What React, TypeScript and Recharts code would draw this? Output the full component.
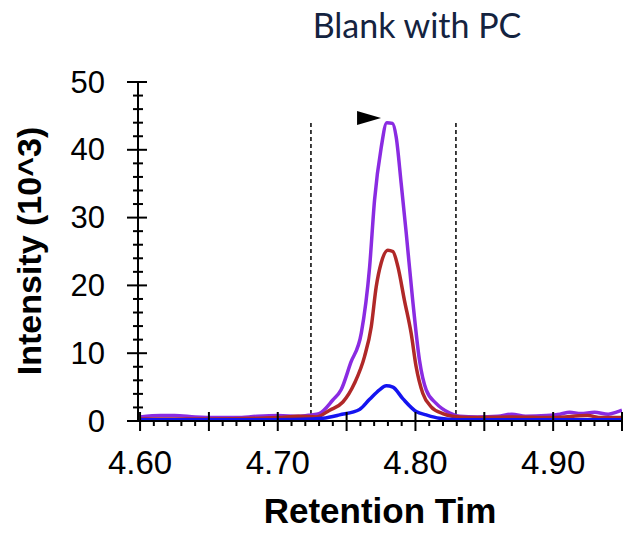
import React from 'react';
import { LineChart, Line, XAxis, YAxis, ReferenceLine, ReferenceDot, Label } from 'recharts';

// Retention time (min) / intensity (10^3) for each trace
const purpleT = [4.6, 4.615, 4.625, 4.64, 4.655, 4.67, 4.685, 4.7, 4.715, 4.724, 4.73, 4.74, 4.746, 4.753, 4.7607, 4.7667, 4.7703, 4.7751, 4.7792, 4.7833, 4.786, 4.7896, 4.7933, 4.798, 4.8029, 4.8078, 4.815, 4.8246, 4.832, 4.845, 4.86, 4.87, 4.88, 4.895, 4.905, 4.912, 4.92, 4.93, 4.94, 4.946, 4.95];
const purpleY = [0.6, 0.8, 0.8, 0.6, 0.5, 0.5, 0.7, 0.8, 0.7, 0.9, 1.1, 3.1, 4.6, 8.6, 13.0, 22.7, 32.6, 40.3, 44.0, 43.9, 41.9, 35.1, 27.7, 17.8, 9.0, 4.6, 2.6, 1.2, 0.7, 0.6, 0.7, 1.0, 0.7, 0.8, 1.0, 1.3, 1.1, 1.3, 1.0, 1.3, 1.6];

const redT = [4.6, 4.65, 4.7, 4.715, 4.728, 4.7377, 4.7473, 4.7558, 4.763, 4.7679, 4.7715, 4.7751, 4.7799, 4.7836, 4.7872, 4.792, 4.7969, 4.8005, 4.8053, 4.8114, 4.8198, 4.8268, 4.84, 4.87, 4.9, 4.925, 4.935, 4.95];
const redY = [0.3, 0.3, 0.5, 0.7, 0.6, 1.6, 2.8, 5.6, 9.5, 13.9, 19.8, 23.3, 25.2, 25.0, 22.8, 17.8, 12.9, 8.0, 4.1, 2.1, 1.1, 0.7, 0.5, 0.6, 0.5, 0.8, 0.5, 0.5];

const blueT = [4.6, 4.7, 4.725, 4.7328, 4.7449, 4.7594, 4.7667, 4.7739, 4.7788, 4.7836, 4.7908, 4.8005, 4.8078, 4.8174, 4.83, 4.95];
const blueY = [0.2, 0.2, 0.3, 0.4, 0.9, 1.7, 3.2, 4.6, 5.2, 5.0, 3.3, 1.4, 0.9, 0.4, 0.2, 0.2];

// integration window & peak marker
const windowStart = 4.7241;
const windowEnd = 4.8294;
const windowTop = 44.1;
const markerT = 4.775;
const markerY = 44.7;

// axis ticks
const xMinorStep = 0.01;
const xTicks = Array.from({ length: 36 }, (_, i) => Math.round((4.6 + i * xMinorStep) * 100) / 100);
const yTicks = Array.from({ length: 26 }, (_, i) => i * 2);

const title = 'Blank with PC';
const xTitle = 'Retention Tim';
const yTitle = 'Intensity (10^3)';

const toRows = (t: number[], y: number[]) => t.map((v, i) => ({ t: v, y: y[i] }));
const purpleData = toRows(purpleT, purpleY);
const redData = toRows(redT, redY);
const blueData = toRows(blueT, blueY);

const ARIAL = '"Liberation Sans", Arial, sans-serif';

const XTick = (props: any) => {
  const { x, y, payload } = props;
  const v = payload.value as number;
  const k = Math.round(v * 100);
  const major = k % 5 === 0;
  const labeled = k % 10 === 0;
  return (
    <g>
      <line x1={x} x2={x} y1={major ? y - 9 : y} y2={major ? y + 10 : y + 5} stroke="#000" strokeWidth={2} />
      {labeled && (
        <text x={x} y={y + 41} textAnchor="middle" dominantBaseline="central" fontFamily={ARIAL} fontSize={33} fill="#000">
          {v.toFixed(2)}
        </text>
      )}
    </g>
  );
};

const YTick = (props: any) => {
  const { x, y, payload } = props;
  const v = payload.value as number;
  const major = v % 10 === 0;
  return (
    <g>
      <line x1={major ? x - 11 : x - 5} x2={major ? x + 9 : x + 5} y1={y} y2={y} stroke="#000" strokeWidth={2} />
      {major && (
        <text x={x - 33} y={y} textAnchor="end" dominantBaseline="central" fontFamily={ARIAL} fontSize={31} fill="#000">
          {v}
        </text>
      )}
    </g>
  );
};

const Marker = (props: any) => {
  const { cx, cy } = props;
  return <polygon points={`${cx},${cy} ${cx - 24},${cy - 7} ${cx - 24},${cy + 7}`} fill="#000" />;
};

export default function App() {
  return (
    <div style={{ position: 'absolute', left: 0, top: 0 }}>
      <LineChart width={628} height={536} margin={{ top: 82, right: 6, bottom: 85, left: 78 }}>
        <XAxis
          type="number"
          dataKey="t"
          domain={[4.5985, 4.95]}
          ticks={xTicks}
          interval={0}
          tick={<XTick />}
          tickLine={false}
          tickSize={0}
          tickMargin={0}
          axisLine={{ stroke: '#000', strokeWidth: 2 }}
          height={30}
          allowDataOverflow
        >
          <Label
            content={() => (
              <g>
                <text x={380} y={523} textAnchor="middle" fontFamily={ARIAL} fontWeight="bold" fontSize={35} fill="#000">
                  {xTitle}
                </text>
                <text x={417} y={38} textAnchor="middle" fontFamily="Lato, 'Open Sans', sans-serif" fontSize={34} fill="#14233f">
                  {title}
                </text>
              </g>
            )}
          />
        </XAxis>
        <YAxis
          type="number"
          domain={[0, 50]}
          ticks={yTicks}
          interval={0}
          tick={<YTick />}
          tickLine={false}
          tickSize={0}
          tickMargin={0}
          axisLine={{ stroke: '#000', strokeWidth: 2 }}
          width={60}
          allowDataOverflow
        >
          <Label
            content={() => (
              <text
                x={29}
                y={251}
                transform="rotate(-90 29 251)"
                textAnchor="middle"
                dominantBaseline="central"
                fontFamily={ARIAL}
                fontWeight="bold"
                fontSize={34}
                fill="#000"
              >
                {yTitle}
              </text>
            )}
          />
        </YAxis>
        <ReferenceLine
          segment={[{ x: windowStart, y: 0 }, { x: windowStart, y: windowTop }]}
          stroke="#000"
          strokeWidth={1.5}
          strokeDasharray="4 3"
        />
        <ReferenceLine
          segment={[{ x: windowEnd, y: 0 }, { x: windowEnd, y: windowTop }]}
          stroke="#000"
          strokeWidth={1.5}
          strokeDasharray="4 3"
        />
        <Line data={purpleData} dataKey="y" type="monotone" stroke="#8a2be2" strokeWidth={3.5} dot={false} isAnimationActive={false} />
        <Line data={redData} dataKey="y" type="monotone" stroke="#b02828" strokeWidth={3.5} dot={false} isAnimationActive={false} />
        <Line data={blueData} dataKey="y" type="monotone" stroke="#1414f0" strokeWidth={3.5} dot={false} isAnimationActive={false} />
        <ReferenceDot x={markerT} y={markerY} shape={<Marker />} />
      </LineChart>
    </div>
  );
}
